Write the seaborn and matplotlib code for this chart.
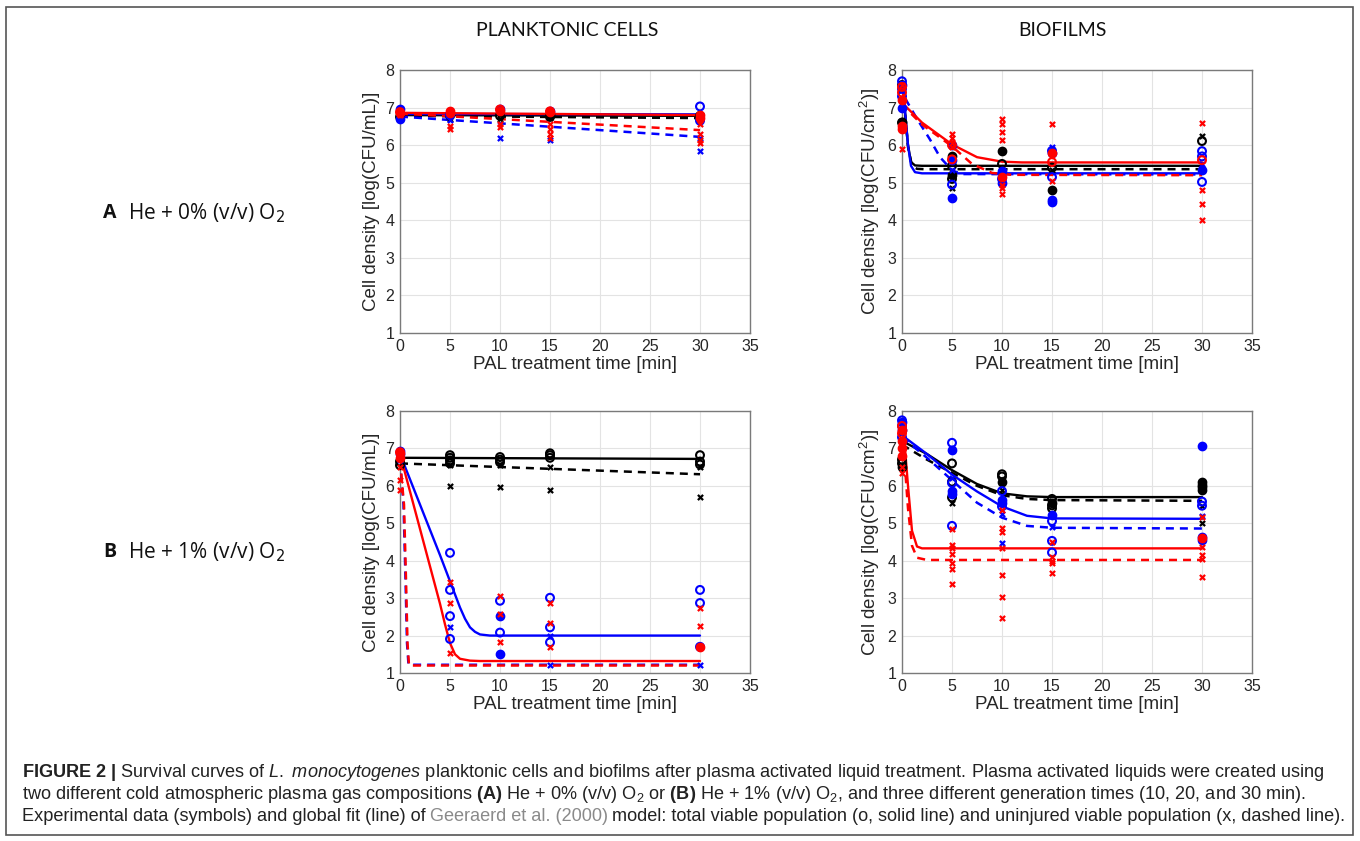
import matplotlib
matplotlib.use("Agg")
import matplotlib.pyplot as plt
from matplotlib.patches import Rectangle
import seaborn as sns
import pandas as pd

# ---------------- data ----------------
times_ticks = [0, 5, 10, 15, 20, 25, 30, 35]
y_ticks = [1, 2, 3, 4, 5, 6, 7, 8]
col_titles = ["PLANKTONIC CELLS", "BIOFILMS"]
row_letters = ["A", "B"]
row_texts = ["He + 0% (v/v) O$_2$", "He + 1% (v/v) O$_2$"]
ylabels = ["Cell density [log(CFU/mL)]", "Cell density [log(CFU/cm$^2$)]"]
xlabel = "PAL treatment time [min]"

# ---- Panel A, planktonic ----
pa_black_o = [(0, 6.75), (5, 6.78), (10, 6.78), (15, 6.75), (30, 6.72), (30, 6.78)]
pa_black_f = [(15, 6.8)]
pa_black_x = [(0, 6.72), (5, 6.7), (10, 6.7), (15, 6.72), (30, 6.68)]
pa_black_fit = [(0, 6.8), (30, 6.78)]
pa_black_fitx = [(0, 6.78), (30, 6.72)]
pa_blue_o = [(5, 6.8), (30, 7.03), (30, 6.65)]
pa_blue_f = [(0, 6.7), (0, 6.95), (10, 6.97), (15, 6.92)]
pa_blue_x = [(0, 6.78), (5, 6.68), (10, 6.18), (15, 6.13), (30, 5.85), (30, 6.2)]
pa_blue_fit = [(0, 6.83), (30, 6.82)]
pa_blue_fitx = [(0, 6.76), (30, 6.22)]
pa_red_o = [(0, 6.88), (10, 6.95), (15, 6.9)]
pa_red_f = [(0, 6.85), (5, 6.9), (5, 6.85), (10, 6.92), (15, 6.88), (30, 6.8), (30, 6.72)]
pa_red_x = [(0, 6.8), (5, 6.5), (5, 6.42), (10, 6.55), (10, 6.48), (15, 6.55), (15, 6.42),
            (15, 6.3), (15, 6.2), (30, 6.55), (30, 6.3), (30, 6.15), (30, 6.05)]
pa_red_fit = [(0, 6.86), (30, 6.8)]
pa_red_fitx = [(0, 6.84), (30, 6.4)]

# ---- Panel A, biofilms ----
ba_black_o = [(0, 6.6), (0, 7.6), (5, 5.45), (5, 5.1), (10, 5.5), (15, 5.4), (30, 6.11)]
ba_black_f = [(0, 6.62), (5, 5.7), (5, 5.2), (10, 5.85), (15, 4.8)]
ba_black_x = [(0, 6.55), (5, 4.85), (10, 5.3), (15, 5.35), (30, 6.24)]
ba_black_fit = [(0, 7.6), (0.3, 6.9), (0.6, 6.0), (0.9, 5.55), (1.3, 5.46), (2, 5.45), (30, 5.45)]
ba_black_fitx = [(0, 7.55), (0.3, 6.85), (0.6, 5.95), (1.0, 5.45), (1.5, 5.37), (2.2, 5.36), (30, 5.36)]
ba_blue_o = [(0, 7.7), (0, 7.5), (0, 7.3), (5, 4.95), (10, 5.1), (15, 5.15), (15, 5.85),
             (30, 5.84), (30, 5.7), (30, 5.02)]
ba_blue_f = [(0, 7.6), (0, 7.0), (5, 6.0), (5, 5.6), (5, 4.6), (10, 5.3), (10, 5.0),
             (15, 5.8), (15, 4.55), (15, 4.5), (30, 5.33)]
ba_blue_x = [(0, 7.1), (5, 5.35), (10, 5.2), (15, 5.95), (30, 5.5)]
ba_blue_fit = [(0, 7.7), (0.3, 6.9), (0.6, 6.0), (0.9, 5.45), (1.3, 5.28), (2, 5.25), (30, 5.25)]
ba_blue_fitx = [(0, 7.6), (0.3, 7.25), (1.5, 6.7), (2.8, 6.15), (3.8, 5.68), (5, 5.33), (6, 5.23), (30, 5.22)]
ba_red_o = [(0, 7.55), (0, 7.4), (5, 6.0), (5, 5.62), (15, 5.55), (30, 5.6)]
ba_red_f = [(0, 7.2), (0, 6.5), (0, 6.42), (15, 5.8), (10, 5.15)]
ba_red_x = [(0, 5.9), (0, 7.6), (5, 6.3), (5, 6.2), (5, 6.05), (5, 5.95), (10, 6.7), (10, 6.55),
            (10, 6.35), (10, 6.15), (10, 4.95), (10, 4.85), (10, 4.7), (15, 6.55), (15, 5.05),
            (30, 6.59), (30, 4.8), (30, 4.44), (30, 4.0)]
ba_red_fit = [(0, 7.55), (0.3, 7.05), (2, 6.6), (5, 6.02), (7.5, 5.68), (10, 5.56), (12, 5.54), (30, 5.54)]
ba_red_fitx = [(0, 7.5), (0.3, 7.0), (2, 6.55), (5, 5.97), (7, 5.5), (9, 5.26), (11, 5.21), (30, 5.2)]

# ---- Panel B, planktonic ----
pb_black_o = [(0, 6.55), (0, 6.65), (5, 6.82), (5, 6.75), (5, 6.68), (5, 6.6), (10, 6.77),
              (10, 6.7), (10, 6.63), (15, 6.87), (15, 6.82), (15, 6.75), (30, 6.82),
              (30, 6.65), (30, 6.57)]
pb_black_f = []
pb_black_x = [(5, 6.0), (5, 6.55), (10, 5.98), (10, 6.55), (15, 5.9), (15, 6.5), (30, 5.71), (30, 6.5)]
pb_black_fit = [(0, 6.75), (30, 6.72)]
pb_black_fitx = [(0, 6.6), (30, 6.31)]
pb_blue_o = [(5, 4.21), (5, 3.22), (5, 2.52), (5, 1.91), (10, 2.93), (10, 2.08), (15, 3.01),
             (15, 2.22), (15, 1.82), (30, 3.22), (30, 2.87), (30, 1.7)]
pb_blue_f = [(0, 6.85), (0, 6.92), (10, 2.52), (10, 1.52)]
pb_blue_x = [(0, 6.7), (5, 2.22), (15, 1.98), (15, 1.21), (30, 1.22)]
pb_blue_fit = [(0, 6.85), (2, 5.5), (4, 4.15), (5, 3.45), (6, 2.75), (6.5, 2.45), (7, 2.22),
               (7.5, 2.1), (8, 2.03), (9, 2.0), (30, 2.0)]
pb_blue_fitx = [(0, 6.7), (0.35, 5.5), (0.55, 3.5), (0.7, 1.8), (0.85, 1.22), (30, 1.22)]
pb_red_o = [(0, 6.9)]
pb_red_f = [(0, 6.88), (0, 6.75), (30, 1.7)]
pb_red_x = [(0, 6.15), (0, 5.9), (0, 6.5), (5, 3.42), (5, 2.88), (5, 1.54), (10, 3.06),
            (10, 2.58), (10, 1.84), (15, 2.86), (15, 2.34), (15, 1.7), (30, 2.74), (30, 2.26)]
pb_red_fit = [(0, 6.85), (1, 5.85), (2, 4.85), (3, 3.85), (4, 2.85), (4.5, 2.3), (5, 1.8),
              (5.5, 1.5), (6, 1.38), (7, 1.33), (8, 1.32), (30, 1.32)]
pb_red_fitx = [(0, 6.7), (0.4, 5.5), (0.6, 3.5), (0.75, 1.8), (0.9, 1.2), (30, 1.2)]

# ---- Panel B, biofilms ----
bb_black_o = [(0, 6.7), (0, 6.6), (5, 6.6), (5, 6.11), (5, 5.69), (10, 6.31), (10, 6.25),
              (15, 5.65), (15, 5.48), (15, 5.4)]
bb_black_f = [(0, 6.5), (10, 6.1), (15, 5.55), (30, 6.1), (30, 6.02), (30, 5.96), (30, 5.9)]
bb_black_x = [(5, 5.55), (10, 5.9), (15, 5.6), (30, 5.0), (30, 5.45)]
bb_black_fit = [(0, 7.2), (2.5, 6.85), (5, 6.42), (7.5, 6.05), (10, 5.8), (12.5, 5.72), (15, 5.7), (30, 5.7)]
bb_black_fitx = [(0, 7.1), (2.5, 6.7), (5, 6.35), (7.5, 6.0), (10, 5.75), (12.5, 5.65), (15, 5.62), (30, 5.6)]
bb_blue_o = [(0, 7.75), (0, 7.6), (0, 7.3), (5, 7.15), (5, 6.08), (5, 4.93), (10, 5.86),
             (10, 5.45), (15, 5.06), (15, 4.53), (15, 4.22), (30, 5.58), (30, 5.47)]
bb_blue_f = [(0, 7.7), (0, 7.5), (5, 6.96), (5, 5.87), (5, 5.78), (10, 5.63), (10, 5.55),
             (15, 5.22), (30, 7.07), (30, 4.63), (30, 4.56)]
bb_blue_x = [(0, 7.4), (5, 6.2), (10, 5.25), (10, 4.48), (15, 4.9), (30, 5.2)]
bb_blue_fit = [(0, 7.35), (2.5, 6.85), (5, 6.3), (7.5, 5.85), (10, 5.45), (12.5, 5.2), (15, 5.13), (30, 5.12)]
bb_blue_fitx = [(0, 7.3), (2.5, 6.75), (5, 6.15), (7.5, 5.55), (10, 5.15), (12.5, 4.93), (15, 4.88), (30, 4.86)]
bb_red_o = [(0, 7.6), (0, 7.4)]
bb_red_f = [(0, 7.5), (0, 7.2), (0, 7.0), (0, 6.8), (30, 4.6)]
bb_red_x = [(0, 6.5), (0, 6.35), (5, 4.84), (5, 4.41), (5, 4.35), (5, 4.18), (5, 3.95), (5, 3.77),
            (5, 3.38), (10, 5.35), (10, 4.88), (10, 4.78), (10, 4.33), (10, 3.62), (10, 3.02),
            (10, 2.48), (15, 4.5), (15, 4.1), (15, 4.0), (15, 3.95), (15, 3.66), (30, 5.17),
            (30, 4.36), (30, 4.14), (30, 4.05), (30, 3.56)]
bb_red_fit = [(0, 7.5), (0.3, 7.0), (0.6, 6.0), (1.0, 4.8), (1.5, 4.38), (2, 4.33), (30, 4.33)]
bb_red_fitx = [(0, 7.4), (0.3, 6.5), (0.6, 5.4), (1.0, 4.4), (1.5, 4.08), (2.5, 4.02), (30, 4.02)]

caption_1 = (r"$\mathbf{FIGURE\ 2\ |}$ Survival curves of $\mathit{L.}$ $\mathit{monocytogenes}$ planktonic cells "
             r"and biofilms after plasma activated liquid treatment. Plasma activated liquids were created using")
caption_2 = (r"two different cold atmospheric plasma gas compositions $\mathbf{(A)}$ He + 0% (v/v) O$_2$ or "
             r"$\mathbf{(B)}$ He + 1% (v/v) O$_2$, and three different generation times (10, 20, and 30 min).")
caption_3a = "Experimental data (symbols) and global fit (line) of"
caption_3b = "Geeraerd et al. (2000)"
caption_3c = "model: total viable population (o, solid line) and uninjured viable population (x, dashed line)."

# ---------------- style ----------------
sns.set_theme(style="white")
plt.rcParams["font.family"] = ["Liberation Sans", "DejaVu Sans"]
plt.rcParams["mathtext.fontset"] = "custom"
plt.rcParams["mathtext.rm"] = "Liberation Sans"
plt.rcParams["mathtext.it"] = "Liberation Sans:italic"
plt.rcParams["mathtext.bf"] = "Liberation Sans:bold"

W, H = 1360, 841
fig = plt.figure(figsize=(W / 100, H / 100), dpi=100)

BLACK, BLUE, RED = "#000000", "#0000ff", "#ff0000"


def fx(px):
    return px / W


def fy(py):
    return 1 - py / H


panel_pos = {
    "pa": (400, 70, 350, 263),
    "ba": (902, 70, 350, 263),
    "pb": (400, 411, 350, 262),
    "bb": (902, 411, 350, 262),
}

panels = {
    "pa": [(BLACK, pa_black_o, pa_black_f, pa_black_x, pa_black_fit, pa_black_fitx),
           (BLUE, pa_blue_o, pa_blue_f, pa_blue_x, pa_blue_fit, pa_blue_fitx),
           (RED, pa_red_o, pa_red_f, pa_red_x, pa_red_fit, pa_red_fitx)],
    "ba": [(BLACK, ba_black_o, ba_black_f, ba_black_x, ba_black_fit, ba_black_fitx),
           (BLUE, ba_blue_o, ba_blue_f, ba_blue_x, ba_blue_fit, ba_blue_fitx),
           (RED, ba_red_o, ba_red_f, ba_red_x, ba_red_fit, ba_red_fitx)],
    "pb": [(BLACK, pb_black_o, pb_black_f, pb_black_x, pb_black_fit, pb_black_fitx),
           (BLUE, pb_blue_o, pb_blue_f, pb_blue_x, pb_blue_fit, pb_blue_fitx),
           (RED, pb_red_o, pb_red_f, pb_red_x, pb_red_fit, pb_red_fitx)],
    "bb": [(BLACK, bb_black_o, bb_black_f, bb_black_x, bb_black_fit, bb_black_fitx),
           (BLUE, bb_blue_o, bb_blue_f, bb_blue_x, bb_blue_fit, bb_blue_fitx),
           (RED, bb_red_o, bb_red_f, bb_red_x, bb_red_fit, bb_red_fitx)],
}


def df(pairs):
    return pd.DataFrame(pairs, columns=["t", "y"]) if pairs else pd.DataFrame({"t": [], "y": []})


for key, series in panels.items():
    l, t, w, h = panel_pos[key]
    ax = fig.add_axes([fx(l), fy(t + h), w / W, h / H])
    for color, o, f, x, fit, fitx in series:
        d = df(fit)
        sns.lineplot(data=d, x="t", y="y", ax=ax, color=color, lw=1.7, sort=False,
                     estimator=None, zorder=3)
        d = df(fitx)
        sns.lineplot(data=d, x="t", y="y", ax=ax, color=color, lw=1.8, sort=False,
                     estimator=None, linestyle=(0, (3.2, 2.4)), zorder=3)
    for color, o, f, x, fit, fitx in series:
        if o:
            sns.scatterplot(data=df(o), x="t", y="y", ax=ax, marker="o", s=32,
                            facecolor="none", edgecolor=color, linewidth=1.5,
                            clip_on=False, zorder=4)
        if f:
            sns.scatterplot(data=df(f), x="t", y="y", ax=ax, marker="o", s=36,
                            facecolor=color, edgecolor=color, linewidth=1.0,
                            clip_on=False, zorder=4)
        if x:
            sns.scatterplot(data=df(x), x="t", y="y", ax=ax, marker="x", s=14,
                            color=color, edgecolor=color, linewidth=1.6,
                            clip_on=False, zorder=4)
    ax.set_xlim(0, 35)
    ax.set_ylim(1, 8)
    ax.set_xticks(times_ticks)
    ax.set_yticks(y_ticks)
    ax.grid(True, color="#e3e3e3", lw=0.8)
    ax.set_axisbelow(True)
    for sp in ax.spines.values():
        sp.set_color("#7a7a7a")
        sp.set_linewidth(1.0)
        sp.set_visible(True)
    ax.tick_params(direction="in", length=3, width=0.8, color="#7a7a7a",
                   labelsize=11.5, labelcolor="#262626", pad=4)
    ax.set_xlabel(xlabel, fontsize=13.5, color="#262626", labelpad=2)
    ylab = ylabels[0] if key in ("pa", "pb") else ylabels[1]
    ax.set_ylabel(ylab, fontsize=13.5, color="#262626", labelpad=4)

# column titles
for txt, cx in zip(col_titles, [567, 1062]):
    fig.text(fx(cx), fy(31), txt, ha="center", va="center", fontsize=14,
             family=["Lato", "DejaVu Sans"], color="#111111")

# row labels
for letter, txt, cy in zip(row_letters, row_texts, [213, 552]):
    fig.text(fx(103), fy(cy), letter, ha="left", va="center", fontsize=14,
             fontweight="bold", family=["Open Sans", "DejaVu Sans"], color="#111111")
    rt = fig.text(fx(128), fy(cy), txt, ha="left", va="center", fontsize=15,
                  family=["Open Sans", "DejaVu Sans"], color="#111111")
    rt.set_math_fontfamily("dejavusans")

# caption
cap_font = ["Liberation Sans", "DejaVu Sans"]
cap_size = 13.1
fig.text(fx(22), fy(777), caption_1, ha="left", va="baseline", fontsize=cap_size,
         family=cap_font, color="#222222")
fig.text(fx(22), fy(799), caption_2, ha="left", va="baseline", fontsize=cap_size,
         family=cap_font, color="#222222")
t1 = fig.text(fx(22), fy(825), caption_3a, ha="left", va="bottom", fontsize=cap_size,
              family=cap_font, color="#222222")
t2 = fig.add_artist(plt.Annotation(caption_3b, xy=(1, 0), xycoords=t1, xytext=(3.0, 0),
                                   textcoords="offset points", ha="left", va="bottom",
                                   fontsize=cap_size, family=cap_font, color="#8a8a8a"))
t3 = fig.add_artist(plt.Annotation(caption_3c, xy=(1, 0), xycoords=t2, xytext=(3.0, 0),
                                   textcoords="offset points", ha="left", va="bottom",
                                   fontsize=cap_size, family=cap_font, color="#222222"))

# outer frame
fig.patches.append(Rectangle((fx(6), fy(835)), (1353 - 6) / W, (835 - 7) / H,
                             transform=fig.transFigure, fill=False, ec="#555555", lw=1.2))

fig.savefig("out.png", dpi=100, facecolor="white")
